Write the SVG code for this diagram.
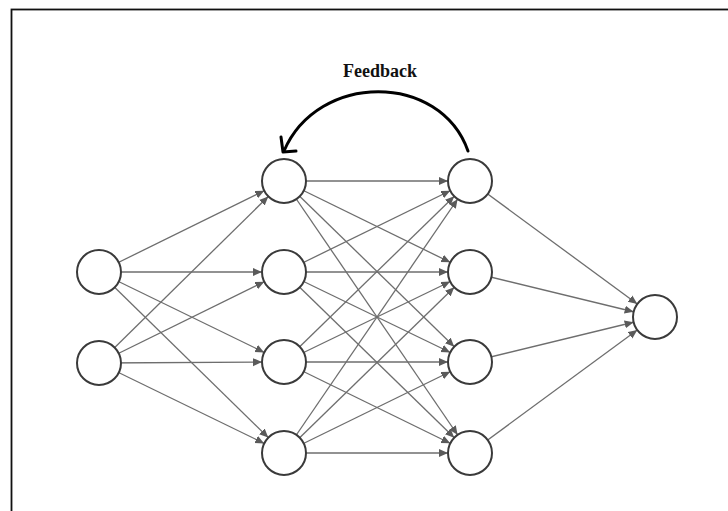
<svg xmlns="http://www.w3.org/2000/svg" width="728" height="511" viewBox="0 0 728 511">
<style>
.node circle{fill:#fff;stroke:#3a3a3a;stroke-width:2}
.edge{stroke:#6e6e6e;stroke-width:1.3;fill:none;marker-end:url(#ah)}
.fb{stroke:#000;stroke-width:3;fill:none;stroke-linecap:round;stroke-linejoin:round}
.lbl{font-family:"Liberation Serif",serif;font-weight:bold;font-size:18px;fill:#111}
</style>
<defs>
<marker id="ah" markerUnits="userSpaceOnUse" markerWidth="40" markerHeight="10" refX="31" refY="4" orient="auto" viewBox="0 0 40 10">
<path d="M0,0 L9,4 L0,8 z" fill="#5a5a5a"/>
</marker>
</defs>
<rect x="11.5" y="9.5" width="730" height="520" fill="#fff" stroke="#111" stroke-width="1.8"/>
<g id="connectors">
<line class="edge" x1="99" y1="272" x2="284" y2="181"/>
<line class="edge" x1="99" y1="272" x2="284" y2="272"/>
<line class="edge" x1="99" y1="272" x2="284" y2="362"/>
<line class="edge" x1="99" y1="272" x2="284" y2="453"/>
<line class="edge" x1="99" y1="363" x2="284" y2="181"/>
<line class="edge" x1="99" y1="363" x2="284" y2="272"/>
<line class="edge" x1="99" y1="363" x2="284" y2="362"/>
<line class="edge" x1="99" y1="363" x2="284" y2="453"/>
<line class="edge" x1="284" y1="181" x2="470" y2="181"/>
<line class="edge" x1="284" y1="181" x2="470" y2="272"/>
<line class="edge" x1="284" y1="181" x2="470" y2="362"/>
<line class="edge" x1="284" y1="181" x2="470" y2="453"/>
<line class="edge" x1="284" y1="272" x2="470" y2="181"/>
<line class="edge" x1="284" y1="272" x2="470" y2="272"/>
<line class="edge" x1="284" y1="272" x2="470" y2="362"/>
<line class="edge" x1="284" y1="272" x2="470" y2="453"/>
<line class="edge" x1="284" y1="362" x2="470" y2="181"/>
<line class="edge" x1="284" y1="362" x2="470" y2="272"/>
<line class="edge" x1="284" y1="362" x2="470" y2="362"/>
<line class="edge" x1="284" y1="362" x2="470" y2="453"/>
<line class="edge" x1="284" y1="453" x2="470" y2="181"/>
<line class="edge" x1="284" y1="453" x2="470" y2="272"/>
<line class="edge" x1="284" y1="453" x2="470" y2="362"/>
<line class="edge" x1="284" y1="453" x2="470" y2="453"/>
<line class="edge" x1="470" y1="181" x2="655" y2="317"/>
<line class="edge" x1="470" y1="272" x2="655" y2="317"/>
<line class="edge" x1="470" y1="362" x2="655" y2="317"/>
<line class="edge" x1="470" y1="453" x2="655" y2="317"/>
<g id="feedback">
<path class="fb" d="M468,151 C440,72 318,72 284,151"/>
<path class="fb" d="M281,137 L283,152 L296,151"/>
</g>
</g>
<text class="lbl" x="380" y="77" text-anchor="middle">Feedback</text>
<g id="in1" class="node"><circle cx="99" cy="272" r="22"/></g>
<g id="in2" class="node"><circle cx="99" cy="363" r="22"/></g>
<g id="h1a" class="node"><circle cx="284" cy="181" r="22"/></g>
<g id="h1b" class="node"><circle cx="284" cy="272" r="22"/></g>
<g id="h1c" class="node"><circle cx="284" cy="362" r="22"/></g>
<g id="h1d" class="node"><circle cx="284" cy="453" r="22"/></g>
<g id="h2a" class="node"><circle cx="470" cy="181" r="22"/></g>
<g id="h2b" class="node"><circle cx="470" cy="272" r="22"/></g>
<g id="h2c" class="node"><circle cx="470" cy="362" r="22"/></g>
<g id="h2d" class="node"><circle cx="470" cy="453" r="22"/></g>
<g id="out" class="node"><circle cx="655" cy="317" r="22"/></g>
</svg>
